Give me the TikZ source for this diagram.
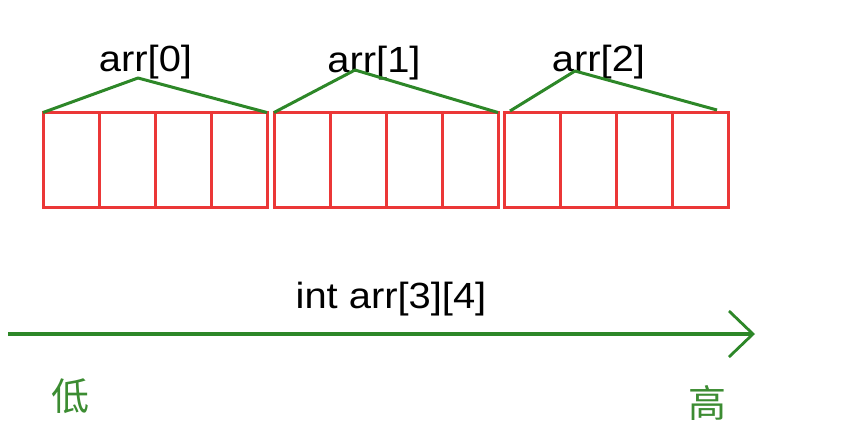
\documentclass[tikz,border=0pt]{standalone}
\usepackage{fontspec}
\setmainfont{Liberation Sans}
\newfontfamily\cjk{Noto Sans CJK SC}
\usetikzlibrary{arrows.meta}
\definecolor{lineg}{RGB}{45,135,40}
\definecolor{cellr}{RGB}{235,55,55}
\definecolor{textg}{RGB}{60,140,50}
\begin{document}
\begin{tikzpicture}[x=1pt,y=-1pt,
  cell/.style={draw=cellr, line width=3pt, minimum width=56pt, minimum height=95pt, inner sep=0pt, outer sep=0pt},
  brace/.style={draw=lineg, line width=3pt, line join=round},
  lbl/.style={font=\fontsize{35}{40}\selectfont, xscale=1.14, yscale=1.04, inner sep=0pt},
  cjkl/.style={font=\cjk\fontsize{38}{44}\selectfont, text=textg, inner sep=0pt},
  axis/.style={draw=lineg, line width=3.2pt, -{Straight Barb[length=24pt,width=46pt,line width=2.8pt]}}]
\useasboundingbox (0,0) rectangle (862,437);
% cells
\foreach \g/\x in {0/43,1/274,2/504}{
  \foreach \i in {0,...,3}{
    \node[cell, anchor=north west] (c\g\i) at ({\x+56*\i},112.5) {};
  }
}
% labels
\node[lbl, anchor=base] (l0) at (145.5,71) {arr[0]};
\node[lbl, anchor=base] (l1) at (374,72) {arr[1]};
\node[lbl, anchor=base] (l2) at (598.5,71) {arr[2]};
% brace lines
\coordinate (p0) at (138,78);
\coordinate (p1) at (355,70);
\coordinate (p2) at (575,71);
\coordinate (s2) at (510,111);
\coordinate (e2) at (717,110);
\draw[brace] (c00.north west) -- (p0) -- (c03.north east);
\draw[brace] (c10.north west) -- (p1) -- (c13.north east);
\draw[brace] (s2) -- (p2) -- (e2);
% axis
\node[lbl, anchor=base] (t) at (391,308) {int arr[3][4]};
\coordinate (as) at (8,334);
\coordinate (ae) at (755,334);
\draw[axis] (as) -- (ae);
\node[cjkl] (lo) at (70,396) {低};
\node[cjkl] (hi) at (707,403) {高};
\end{tikzpicture}
\end{document}
